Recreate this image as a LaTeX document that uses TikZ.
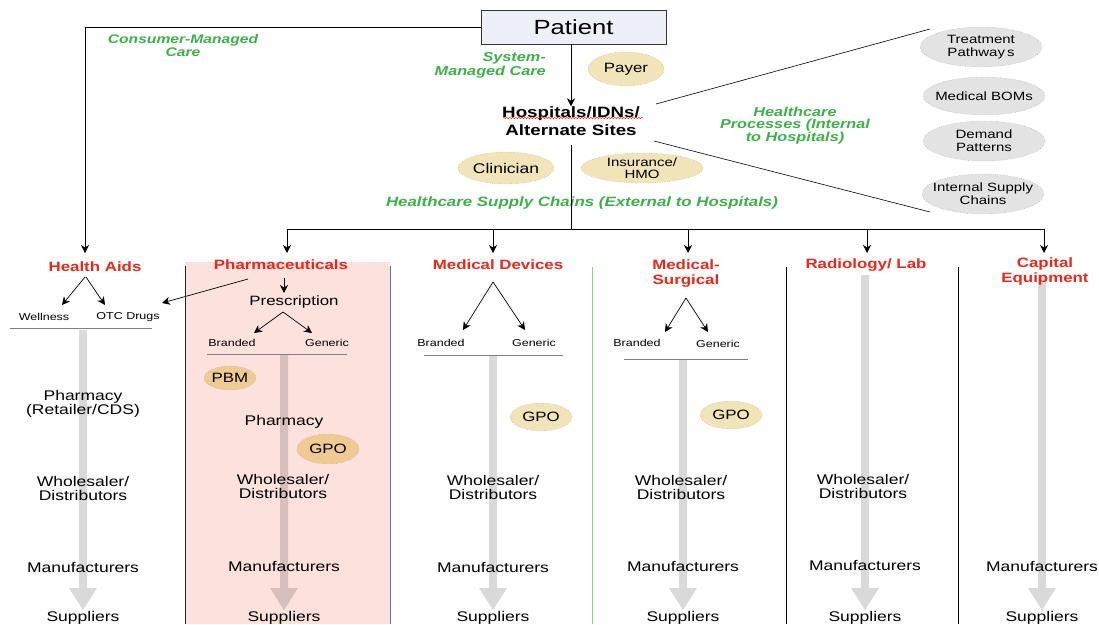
\documentclass[tikz,border=0pt]{standalone}
\usepackage{fontspec}
\setmainfont{Liberation Sans}[FakeStretch=1.25]
\usetikzlibrary{shapes.geometric,arrows.meta,decorations.pathmorphing}
\definecolor{catred}{HTML}{E2291C}
\definecolor{lblgreen}{HTML}{3FAE49}
\definecolor{wheat}{HTML}{F1E4B8}
\definecolor{amber}{HTML}{F0CA93}
\definecolor{cloud}{HTML}{E3E3E3}
\definecolor{pinkbg}{HTML}{FDE1DD}
\definecolor{boxbg}{HTML}{EEF0F7}
\tikzset{
  tip/.style={-{Stealth[length=8pt,width=8pt,inset=2.5pt]}, line width=0.7pt},
  txt/.style={font=\fontsize{14}{14}\selectfont, align=center, inner sep=0},
  small/.style={font=\fontsize{10}{12}\selectfont, inner sep=0},
  cat/.style={font=\fontsize{13.5}{15}\selectfont\bfseries, text=catred, align=center, inner sep=0},
  flow/.style={font=\fontsize{12.5}{11}\selectfont\bfseries\itshape, text=lblgreen, align=center, inner sep=0},
  role/.style={ellipse, draw=black!45, dotted, fill=wheat, inner sep=0, font=\fontsize{13.5}{13}\selectfont, align=center},
  agent/.style={role, fill=amber},
  process/.style={ellipse, draw=black!45, dotted, fill=cloud, inner xsep=-12pt, inner ysep=-3pt, minimum width=122, minimum height=40, font=\fontsize{12}{13}\selectfont, align=center},
  shaftfill/.style={fill=black, fill opacity=0.15, draw=none}
}
% broad grey downward arrow: x, top, tip
\newcommand\chainarrow[3]{%
  \path[shaftfill] ({#1-4},#2) -- ({#1+4},#2) -- ({#1+4},{#3-22}) -- ({#1+14},{#3-22})
    -- (#1,#3) -- ({#1-14},{#3-22}) -- ({#1-4},{#3-22}) -- cycle;}
\begin{document}
\begin{tikzpicture}[x=1pt,y=-1pt]
\useasboundingbox (0,0) rectangle (1099,624);

% pharmaceuticals column background
\fill[pinkbg] (185,262) rectangle (390,624);
\draw[black!85, line width=0.8pt] (185,266) -- (185,624);
\draw[black!55, line width=0.8pt] (390,266) -- (390,624);
\draw[lblgreen!60, line width=0.8pt] (592,267) -- (592,624);
\draw[black, line width=0.7pt] (786,267) -- (786,624);
\draw[black, line width=0.7pt] (958,267) -- (958,624);

% grey supply-chain arrows
\chainarrow{83}{330}{610}
\chainarrow{284}{354}{610}
\chainarrow{493}{355}{610}
\chainarrow{683}{359}{610}
\chainarrow{865}{275}{610}
\chainarrow{1042}{275}{610}

% top
\node[draw=black!80, fill=boxbg, minimum width=185, minimum height=34, inner sep=0,
      font=\fontsize{20.5}{20}\selectfont] (patient) at (573.5,27) {Patient};
\node[font=\fontsize{15}{18}\selectfont\bfseries, align=center, inner sep=0] (hosp) at (571,121) {Hospitals/IDNs/\\Alternate Sites};
\draw[red, line width=0.4pt, decorate, decoration={snake, amplitude=0.7pt, segment length=3pt}] (503,118) -- (643,118);
\node[flow] (cmc) at (183,45.5) {Consumer-Managed\\Care};
\node[flow, font=\fontsize{13}{14}\selectfont\bfseries\itshape, align=right, anchor=east] (smc) at (546,65) {System-\\Managed Care};
\node[role, minimum width=76, minimum height=34] (payer) at (626,69) {Payer};
\node[role, minimum width=96, minimum height=32, font=\fontsize{14}{14}\selectfont] (clin) at (506,168) {Clinician};
\node[role, minimum width=122, minimum height=30, font=\fontsize{12}{12}\selectfont] (ins) at (642,168) {Insurance/\\HMO};
\node[flow, font=\fontsize{13}{12}\selectfont\bfseries\itshape] (proc) at (795,125.5) {Healthcare\\Processes (Internal\\to Hospitals)};
\node[flow, font=\fontsize{13.5}{11}\selectfont\bfseries\itshape] (ext) at (582,203) {Healthcare Supply Chains (External to Hospitals)};

\node[process] (tp) at (981,47) {Treatment\\Pathway\kern2pt s};
\node[process, minimum height=38] (bom) at (984,96) {Medical BOMs};
\node[process] (dp) at (984,141) {Demand\\Patterns};
\node[process] (isc) at (983,194) {Internal Supply\\Chains};
\coordinate (bt) at (930,29);
\coordinate (bb) at (930,212);
\draw[line width=0.6pt] (656,104) -- (bt);
\draw[line width=0.6pt] (654,141) -- (bb);

\draw[tip] (patient.south -| hosp) -- (hosp.north);

% categories
\node[cat] (ha) at (95,267) {Health Aids};
\node[cat] (ph) at (281,265) {Pharmaceuticals};
\node[cat] (md) at (498,265) {Medical Devices};
\node[cat] (ms) at (686,273.5) {Medical-\\Surgical};
\node[cat] (rl) at (866,265) {Radiology/ Lab};
\node[cat] (ce) at (1045,271.5) {Capital\\Equipment};

\draw[tip] (patient.west) -| (85,253);
\coordinate (bus) at (571,229);
\draw[line width=0.7pt] (hosp.south |- 0,145) -- (bus);
\draw[line width=0.7pt] (287,229) -- (1044,229);
\draw[tip] (287,229) -- (287,253);
\draw[tip] (493,229) -- (493,253);
\draw[tip] (688,229) -- (688,253);
\draw[tip] (867,229) -- (867,253);
\draw[tip] (1044,229) -- (1044,253);

% health aids
\node[small] (well) at (44,317) {Wellness};
\node[small] (otc) at (128,317) {OTC Drugs};
\draw[tip] (85,277) -- (62,305);
\draw[tip] (86,277) -- (105,305);
\draw[tip] (248,279) -- (162,303);
\draw[black!50, line width=0.5pt] (10,328) -- (152,328);
\node[txt] at (83,404) {Pharmacy\\(Retailer/CDS)};
\node[txt] at (83,488) {Wholesaler/\\Distributors};
\node[txt] at (83,567) {Manufacturers};
\node[txt] at (83,618) {Suppliers};

% pharmaceuticals
\node[txt, font=\fontsize{13.5}{14}\selectfont] (rx) at (294,302) {Prescription};
\draw[tip] (284,278) -- (284,293);
\draw[tip] (283,312) -- (254,333);
\draw[tip] (283,312) -- (312,333);
\node[small] (br1) at (232,343) {Branded};
\node[small] (ge1) at (327,343) {Generic};
\draw[black!50, line width=0.5pt] (207,354) -- (347,354);
\node[agent, minimum width=50, minimum height=24] (pbm) at (230,378) {PBM};
\node[txt] at (284,422) {Pharmacy};
\node[agent, minimum width=62, minimum height=30] (gpo1) at (328,449) {GPO};
\node[txt] at (283,486) {Wholesaler/\\Distributors};
\node[txt] at (284,566) {Manufacturers};
\node[txt] at (284,618) {Suppliers};

% medical devices
\draw[tip] (493,282) -- (463,330);
\draw[tip] (493,282) -- (525,330);
\node[small] (br2) at (441,343) {Branded};
\node[small] (ge2) at (534,343) {Generic};
\draw[black!50, line width=0.5pt] (424,355) -- (563,355);
\node[role, minimum width=62, minimum height=28] (gpo2) at (541,417) {GPO};
\node[txt] at (493,487) {Wholesaler/\\Distributors};
\node[txt] at (493,567) {Manufacturers};
\node[txt] at (493,618) {Suppliers};

% medical-surgical
\draw[tip] (686,298) -- (665,332);
\draw[tip] (686,298) -- (708,332);
\node[small] (br3) at (637,343) {Branded};
\node[small] (ge3) at (718,344) {Generic};
\draw[black!50, line width=0.5pt] (624,359) -- (748,359);
\node[role, minimum width=62, minimum height=28] (gpo3) at (731,415) {GPO};
\node[txt] at (681,487) {Wholesaler/\\Distributors};
\node[txt] at (683,566) {Manufacturers};
\node[txt] at (683,618) {Suppliers};

% radiology / lab
\node[txt] at (863,486) {Wholesaler/\\Distributors};
\node[txt] at (865,565) {Manufacturers};
\node[txt] at (865,618) {Suppliers};

% capital equipment
\node[txt] at (1042,566) {Manufacturers};
\node[txt] at (1042,618) {Suppliers};
\end{tikzpicture}
\end{document}
